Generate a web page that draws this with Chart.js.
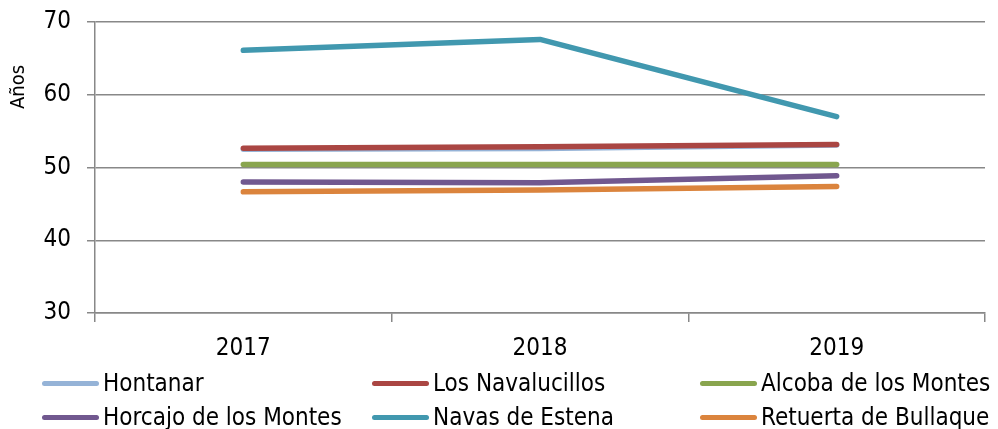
<!DOCTYPE html>
<html>
<head>
<meta charset="utf-8">
<script src="https://cdn.jsdelivr.net/npm/chart.js@4/dist/chart.umd.min.js"></script>
<style>
  html, body { margin: 0; padding: 0; background: #fff; }
  #wrap { position: relative; width: 998px; height: 429px; }
  #legend { position: absolute; left: 0; top: 0; width: 998px; height: 429px; pointer-events: none;
    font-family: "DejaVu Sans Condensed", "DejaVu Sans", sans-serif; font-size: 24px; color: #000; }
  .item { position: absolute; display: flex; align-items: center; white-space: nowrap; transform: translateY(-50%); }
  .swatch { width: 57px; height: 5px; border-radius: 3px; margin-right: 4px; }
</style>
</head>
<body>
<div id="wrap">
  <canvas id="c" width="998" height="429"></canvas>
  <div id="legend"></div>
</div>
<script>
const categories = ["2017", "2018", "2019"];
const seriesNames = ["Hontanar", "Los Navalucillos", "Alcoba de los Montes", "Horcajo de los Montes", "Navas de Estena", "Retuerta de Bullaque"];
const hontanar = [52.5, 52.6, 53.1];
const losNavalucillos = [52.65, 52.85, 53.15];
const alcobaDeLosMontes = [50.4, 50.4, 50.4];
const horcajoDeLosMontes = [48.0, 47.9, 48.85];
const navasDeEstena = [66.1, 67.6, 57.0];
const retuertaDeBullaque = [46.65, 46.9, 47.4];
const yTicks = [30, 40, 50, 60, 70];
const yTitle = "Años";
const colors = ["#95B3D7", "#AA4643", "#89A54E", "#71588F", "#4198AF", "#DB843D"];

const seriesValues = [hontanar, losNavalucillos, alcobaDeLosMontes, horcajoDeLosMontes, navasDeEstena, retuertaDeBullaque];
const FONT = "'DejaVu Sans Condensed', 'DejaVu Sans', sans-serif";
const GRID = "#888888";

const datasets = seriesNames.map((name, i) => ({
  label: name,
  data: seriesValues[i],
  borderColor: colors[i],
  backgroundColor: colors[i],
  borderWidth: 5.5,
  borderCapStyle: "round",
  borderJoinStyle: "round",
  pointRadius: 0,
  pointHoverRadius: 0,
  tension: 0,
  fill: false,
  order: seriesNames.length - i
}));

const yTitlePlugin = {
  id: "yTitlePlugin",
  afterDraw(chart) {
    const ctx = chart.ctx;
    ctx.save();
    ctx.translate(19, 87);
    ctx.rotate(-Math.PI / 2);
    ctx.font = "20px " + FONT;
    ctx.fillStyle = "#000";
    ctx.textAlign = "center";
    ctx.textBaseline = "middle";
    ctx.fillText(yTitle, 0, 0);
    ctx.restore();
  }
};

new Chart(document.getElementById("c"), {
  type: "line",
  data: { labels: categories, datasets },
  plugins: [yTitlePlugin],
  options: {
    responsive: false,
    animation: false,
    devicePixelRatio: 1,
    layout: { padding: { top: 22, right: 13, bottom: 66, left: 0 } },
    plugins: { legend: { display: false }, tooltip: { enabled: false } },
    scales: {
      x: {
        offset: true,
        grid: { offset: true, drawOnChartArea: false, drawTicks: true, tickLength: 9, color: GRID, lineWidth: 1.5 },
        border: { display: true, color: GRID, width: 1.5 },
        ticks: { color: "#000", font: { family: FONT, size: 24 }, padding: 12, maxRotation: 0 },
        afterFit: s => { s.height = 50; s.paddingLeft = 0; s.paddingRight = 0; }
      },
      y: {
        min: 30, max: 70,
        afterBuildTicks: s => { s.ticks = yTicks.map(v => ({ value: v })); },
        grid: { color: GRID, lineWidth: 1.5, tickLength: 8, drawTicks: true },
        border: { display: true, color: GRID, width: 1.5 },
        ticks: { color: "#000", font: { family: FONT, size: 24 }, padding: 16 },
        afterFit: s => { s.width = 95; s.paddingTop = 0; s.paddingBottom = 0; }
      }
    }
  }
});

// legend in a 3-column grid as in the reference
const legend = document.getElementById("legend");
const colLefts = [42, 372, 700];
const rowCenters = [383, 417];
seriesNames.forEach((name, i) => {
  const d = document.createElement("div");
  d.className = "item";
  d.style.left = colLefts[i % 3] + "px";
  d.style.top = rowCenters[Math.floor(i / 3)] + "px";
  const sw = document.createElement("span");
  sw.className = "swatch";
  sw.style.background = colors[i];
  const t = document.createElement("span");
  t.textContent = name;
  d.appendChild(sw); d.appendChild(t);
  legend.appendChild(d);
});
</script>
</body>
</html>
